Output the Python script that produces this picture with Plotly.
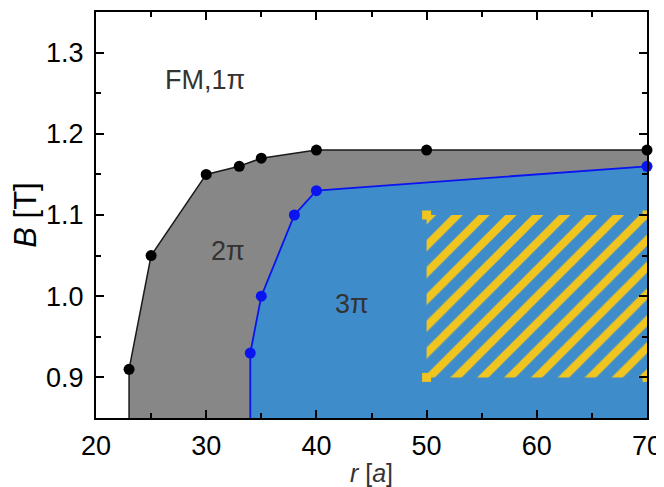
import plotly.graph_objects as go

# Data
r_2pi = [23, 25, 30, 33, 35, 40, 50, 70]
B_2pi = [0.91, 1.05, 1.15, 1.16, 1.17, 1.18, 1.18, 1.18]
r_3pi = [34, 35, 38, 40, 70]
B_3pi = [0.93, 1.00, 1.10, 1.13, 1.16]
hatch_r = [50, 70]
hatch_B = [0.90, 1.10]
labels = ["FM,1π", "2π", "3π"]
label_r = [29.9, 32.0, 43.2]
label_B = [1.266, 1.056, 0.99]

x_range = [20, 70]
y_range = [0.85, 1.35]
y0 = y_range[0]

GRAY = "#878787"
BLUE_FILL = "#3f8ccb"
BLUE_LINE = "#0a14f0"
YELLOW = "#f0c520"
FONT = "Liberation Sans, Arial, sans-serif"

fig = go.Figure()

# gray 2pi region
fig.add_trace(go.Scatter(
    x=[r_2pi[0]] + r_2pi + [r_2pi[-1]],
    y=[y0] + B_2pi + [y0],
    fill="toself", fillcolor=GRAY, mode="none", hoverinfo="skip", showlegend=False))
# blue 3pi region
fig.add_trace(go.Scatter(
    x=[r_3pi[0]] + r_3pi + [r_3pi[-1]],
    y=[y0] + B_3pi + [y0],
    fill="toself", fillcolor=BLUE_FILL, mode="none", hoverinfo="skip", showlegend=False))
# hatched rectangle
fig.add_trace(go.Scatter(
    x=[hatch_r[0], hatch_r[1], hatch_r[1], hatch_r[0], hatch_r[0]],
    y=[hatch_B[0], hatch_B[0], hatch_B[1], hatch_B[1], hatch_B[0]],
    fill="toself", mode="none", fillcolor=BLUE_FILL,
    fillpattern=dict(shape="/", fgcolor=YELLOW, bgcolor=BLUE_FILL, size=19, solidity=0.42,
                     fillmode="replace"),
    hoverinfo="skip", showlegend=False))
# hatch corner markers
fig.add_trace(go.Scatter(
    x=[hatch_r[0], hatch_r[0], hatch_r[1], hatch_r[1]],
    y=[hatch_B[1], hatch_B[0], hatch_B[1], hatch_B[0]],
    mode="markers", marker=dict(symbol="square", size=9, color=YELLOW),
    cliponaxis=True, showlegend=False))
# black boundary line
fig.add_trace(go.Scatter(
    x=[r_2pi[0]] + r_2pi, y=[y0] + B_2pi, mode="lines",
    line=dict(color="#1a1a1a", width=1.5), showlegend=False))
fig.add_trace(go.Scatter(
    x=r_2pi, y=B_2pi, mode="markers",
    marker=dict(color="black", size=11), cliponaxis=False, showlegend=False))
# blue boundary line
fig.add_trace(go.Scatter(
    x=[r_3pi[0]] + r_3pi, y=[y0] + B_3pi, mode="lines",
    line=dict(color=BLUE_LINE, width=1.8), showlegend=False))
fig.add_trace(go.Scatter(
    x=r_3pi, y=B_3pi, mode="markers",
    marker=dict(color=BLUE_LINE, size=11), cliponaxis=False, showlegend=False))

for t, xx, yy in zip(labels, label_r, label_B):
    fig.add_annotation(x=xx, y=yy, text=t, showarrow=False,
                       font=dict(family=FONT, size=27, color="#333333"))

axis_common = dict(showline=True, linecolor="black", linewidth=2, mirror="allticks",
                   ticks="inside", ticklen=8, tickwidth=2, tickcolor="black",
                   showgrid=False, zeroline=False, automargin=False,
                   tickfont=dict(family=FONT, size=27, color="black"))

fig.update_xaxes(range=x_range, dtick=10, tick0=20,
                 minor=dict(ticks="inside", dtick=5, ticklen=5, tickwidth=2, tickcolor="black"),
                 title=dict(text="<i>r</i> [<i>a</i>]", font=dict(family=FONT, size=25, color="#333333"),
                            standoff=4),
                 ticklabelstandoff=3,
                 **axis_common)
fig.update_yaxes(range=y_range, dtick=0.1, tick0=0.9, tickformat=".1f",
                 minor=dict(ticks="inside", dtick=0.05, ticklen=5, tickwidth=2, tickcolor="black"),
                 title=dict(text="<i>B</i> [T]", font=dict(family=FONT, size=31, color="black"),
                            standoff=6),
                 ticklabelstandoff=5,
                 **axis_common)

# page body has an 8px margin, so the figure is 8px smaller and margins shifted
fig.update_layout(width=656, height=479,
                  margin=dict(l=88, r=17, t=4, b=69),
                  plot_bgcolor="white", paper_bgcolor="white",
                  showlegend=False)

fig.write_html("out.html")
